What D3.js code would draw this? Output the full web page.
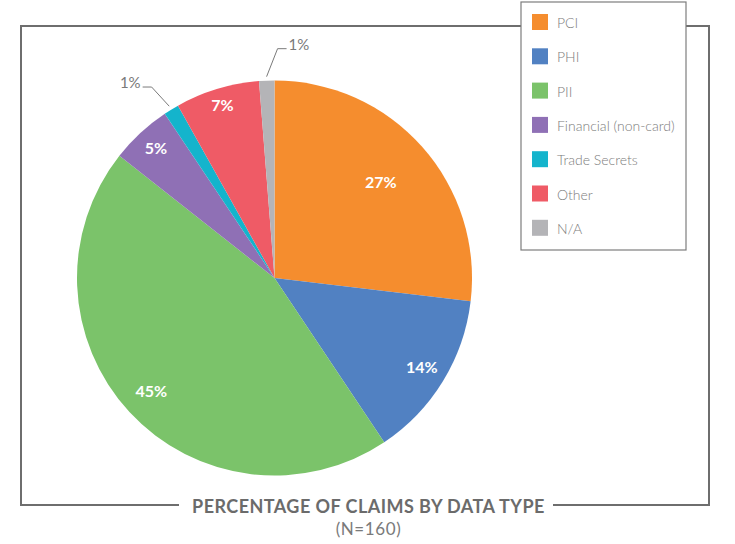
<!DOCTYPE html>
<meta charset="utf-8">
<style>
body { margin: 0; background: #fff; }
svg { display: block; }
.legend text { font-family: Lato, sans-serif; font-weight: 300; font-size: 14px; fill: #7c7c7c; }
.inlabel { font-family: Lato, sans-serif; font-weight: 700; font-size: 16px; fill: #fff; }
.outlabel { font-family: Lato, sans-serif; font-size: 15px; fill: #7a7a7a; }
.title { font-family: Lato, sans-serif; font-weight: 700; font-size: 18px; letter-spacing: 0.45px; fill: #6b6b6b; }
.subtitle { font-family: Lato, sans-serif; font-size: 17px; letter-spacing: 0.6px; fill: #7a7a7a; }
</style>
<svg width="735" height="544"></svg>
<script src="https://d3js.org/d3.v7.min.js"></script>
<script>
// claims by data type, N=160
var categories = ["PCI", "PHI", "PII", "Financial (non-card)", "Trade Secrets", "Other", "N/A"];
var claims = [43, 22, 72, 8, 2, 11, 2];
var colors = ["#f58d2e", "#5181c2", "#7bc36a", "#8f70b5", "#14b4cc", "#ef5b66", "#b4b4b7"];

var svg = d3.select("svg"),
  width = +svg.attr("width"),
  height = +svg.attr("height");

var total = d3.sum(claims);
var data = categories.map(function(c, i) { return {name: c, value: claims[i]}; });

var color = d3.scaleOrdinal().domain(categories).range(colors);

// frame around the chart, broken by the title at the bottom
var frame = svg.append("g")
  .attr("fill", "none")
  .attr("stroke", "#6e6e6e")
  .attr("stroke-width", 2);
frame.append("path").attr("d", "M179,505 H21 V26 H521");
frame.append("path").attr("d", "M686,26 H709 V505 H553");

svg.append("text").attr("class", "title")
  .attr("x", 368.5).attr("y", 512.5)
  .attr("text-anchor", "middle")
  .text("PERCENTAGE OF CLAIMS BY DATA TYPE");
svg.append("text").attr("class", "subtitle")
  .attr("x", 368.5).attr("y", 535)
  .attr("text-anchor", "middle")
  .text("(N=" + total + ")");

// pie
var cx = 274.5, cy = 278, r = 197.5;
var pie = d3.pie().sort(null).value(function(d) { return d.value; });
var arcs = pie(data);
var arc = d3.arc().innerRadius(0).outerRadius(r);

var g = svg.append("g").attr("transform", "translate(" + cx + "," + cy + ")");
g.selectAll("path.slice")
  .data(arcs)
  .enter().append("path")
  .attr("class", "slice")
  .attr("fill", function(d) { return color(d.data.name); })
  .attr("d", arc);

var pct = function(d) { return Math.round(d.data.value / total * 100) + "%"; };

// big slices get a label inside
var labelRadius = {"PCI": 0.72, "PII": 0.85, "Other": 0.91, "Financial (non-card)": 0.885};
var inside = arcs.filter(function(d) { return d.data.value / total > 0.03; });
g.selectAll("text.inlabel")
  .data(inside)
  .enter().append("text")
  .attr("class", "inlabel")
  .attr("text-anchor", "middle")
  .attr("dy", "0.3em")
  .attr("transform", function(d) {
    var k = labelRadius[d.data.name] || 0.875;
    var c = d3.arc().innerRadius(r * k).outerRadius(r * k).centroid(d);
    return "translate(" + c + ")";
  })
  .text(pct);

// small slices get a callout
var callout = {"Trade Secrets": {dir: -1, nx: -4, ny: 3}, "N/A": {dir: 1, nx: 12, ny: -2}};
var outside = arcs.filter(function(d) { return d.data.value / total <= 0.03; });
var polar = function(a, rad) { return [Math.sin(a) * rad, -Math.cos(a) * rad]; };
outside.forEach(function(d) {
  var a = (d.startAngle + d.endAngle) / 2,
    o = callout[d.data.name];
  var p0 = polar(a, r + 4),
    p1 = polar(a, r + 30);
  p1 = [p1[0] + o.nx, p1[1] + o.ny];
  var p2 = [p1[0] + o.dir * 9, p1[1]];
  g.append("polyline")
    .attr("points", [p0, p1, p2].join(" "))
    .attr("fill", "none")
    .attr("stroke", "#7a7a7a")
    .attr("stroke-width", 1);
  g.append("text")
    .attr("class", "outlabel")
    .attr("x", p2[0] + o.dir * 2)
    .attr("y", p2[1] + 1)
    .attr("text-anchor", o.dir < 0 ? "end" : "start")
    .text(pct(d));
});

// legend
var legend = svg.append("g").attr("class", "legend");
legend.append("rect")
  .attr("x", 521).attr("y", 2)
  .attr("width", 165).attr("height", 248)
  .attr("fill", "#fff")
  .attr("stroke", "#7d7d7d")
  .attr("stroke-width", 1.2);
var item = legend.selectAll("g.item")
  .data(categories)
  .enter().append("g")
  .attr("class", "item")
  .attr("transform", function(d, i) { return "translate(532," + (14 + i * 34.3) + ")"; });
item.append("rect")
  .attr("width", 16).attr("height", 16)
  .attr("fill", function(d) { return color(d); });
item.append("text")
  .attr("x", 25).attr("y", 14)
  .text(function(d) { return d; });
</script>
</html>
